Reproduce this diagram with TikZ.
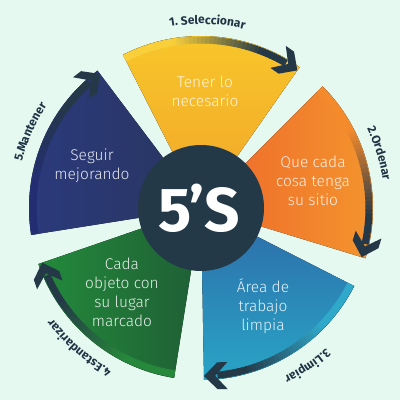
\documentclass[tikz,border=0pt]{standalone}
\usepackage{fontspec}
\setmainfont{Fira Sans}
\newfontfamily\lightfont{Fira Sans}[UprightFont={* Light}]
\usetikzlibrary{decorations.text}
\definecolor{bgc}{HTML}{E5F9F0}
\definecolor{darkc}{HTML}{243847}
\definecolor{circc}{HTML}{233947}
\definecolor{labc}{HTML}{1F3445}
\definecolor{yelA}{HTML}{F8C82A}
\definecolor{yelB}{HTML}{F2A42A}
\definecolor{yelL}{HTML}{F9CF3C}
\definecolor{orA}{HTML}{EE672B}
\definecolor{orB}{HTML}{F4972E}
\definecolor{orL}{HTML}{F48A2C}
\definecolor{blA}{HTML}{2E69A8}
\definecolor{blB}{HTML}{28A5C6}
\definecolor{blL}{HTML}{30A8CA}
\definecolor{grA}{HTML}{238A3B}
\definecolor{grB}{HTML}{1F5E35}
\definecolor{grL}{HTML}{26883B}
\definecolor{nvA}{HTML}{2B3A7D}
\definecolor{nvB}{HTML}{28355F}
\definecolor{nvL}{HTML}{232E72}
\newcommand\labfont{\fontsize{12}{14}\selectfont\bfseries\color{labc}}
\newcommand\secfont{\lightfont\fontsize{15.5}{19}\selectfont}
\newcommand\gradarrow[2]{%
  \foreach \i in {0,...,39}{%
    \pgfmathsetmacro\aa{#1+31-\i*57/40}%
    \pgfmathsetmacro\ab{\aa-57/40-0.4}%
    \pgfmathtruncatemacro\pp{min(100,max(0,(\i/39-0.3)/0.55*100))}%
    \draw[line width=7pt, draw=darkc!\pp!#2] (\aa:168) arc[start angle=\aa, end angle=\ab, radius=168];
  }%
  \fill[darkc, shift={(#1-31:168)}, rotate=#1-31-90, scale=1.12] (0,0) -- (-12,12) -- (-21,12) -- (-10,0) -- (-21,-12) -- (-12,-12) -- cycle;
}
\tikzset{
  sectext/.style={align=center, text=white, text opacity=0.88, font=\secfont},
}
\begin{document}
\begin{tikzpicture}[x=1pt,y=1pt]
\useasboundingbox (-201,-192) rectangle (199,208);
\fill[bgc] (-201,-192) rectangle (199,208);
% sectors
\fill[top color=yelA, bottom color=yelB] (0,0) -- (117:172) arc[start angle=117, end angle=55, radius=172] -- cycle;
\fill[left color=orA, right color=orB] (0,0) -- (45:172) arc[start angle=45, end angle=-17, radius=172] -- cycle;
\fill[top color=blA, bottom color=blB] (0,0) -- (-27:172) arc[start angle=-27, end angle=-89, radius=172] -- cycle;
\fill[left color=grA, right color=grB] (0,0) -- (-99:172) arc[start angle=-99, end angle=-161, radius=172] -- cycle;
\fill[left color=nvA, right color=nvB] (0,0) -- (-171:172) arc[start angle=-171, end angle=-233, radius=172] -- cycle;
% arrows
\gradarrow{86}{yelL}
\gradarrow{14}{orL}
\gradarrow{-58}{blL}
\gradarrow{-130}{grL}
\gradarrow{-202}{nvL}
% centre
\fill[circc] (0,0) circle[radius=63];
\node[font=\fontsize{62}{62}\selectfont\bfseries, text=white] (title) at (-2,0) {5’S};
% sector texts
\node[sectext] (t1) at (4,117) {Tener lo\\necesario};
\node[sectext] (t2) at (112,27) {Que cada\\cosa tenga\\su sitio};
\node[sectext] (t3) at (62,-98) {Área de\\trabajo\\limpia};
\node[sectext] (t4) at (-79,-84) {Cada\\objeto con\\su lugar\\marcado};
\node[sectext] (t5) at (-109,42) {Seguir\\mejorando};
% outer labels
\path[decorate, decoration={text along path, text align=center, text={|\labfont|1. Seleccionar}}] (128:184) arc[start angle=128, end angle=48, radius=184];
\path[decorate, decoration={text along path, text align=center, text={|\labfont|2.Ordenar}}] (57:184) arc[start angle=57, end angle=-23, radius=184];
\path[decorate, decoration={text along path, text align=center, text={|\labfont|3.Limpiar}}] (-16:188) arc[start angle=-16, end angle=-96, radius=188];
\path[decorate, decoration={text along path, text align=center, text={|\labfont|4.Estandarizar}}] (-91:185) arc[start angle=-91, end angle=-171, radius=185];
\path[decorate, decoration={text along path, text align=center, text={|\labfont|5.Mantener}}] (196:185) arc[start angle=196, end angle=116, radius=185];
\end{tikzpicture}
\end{document}
